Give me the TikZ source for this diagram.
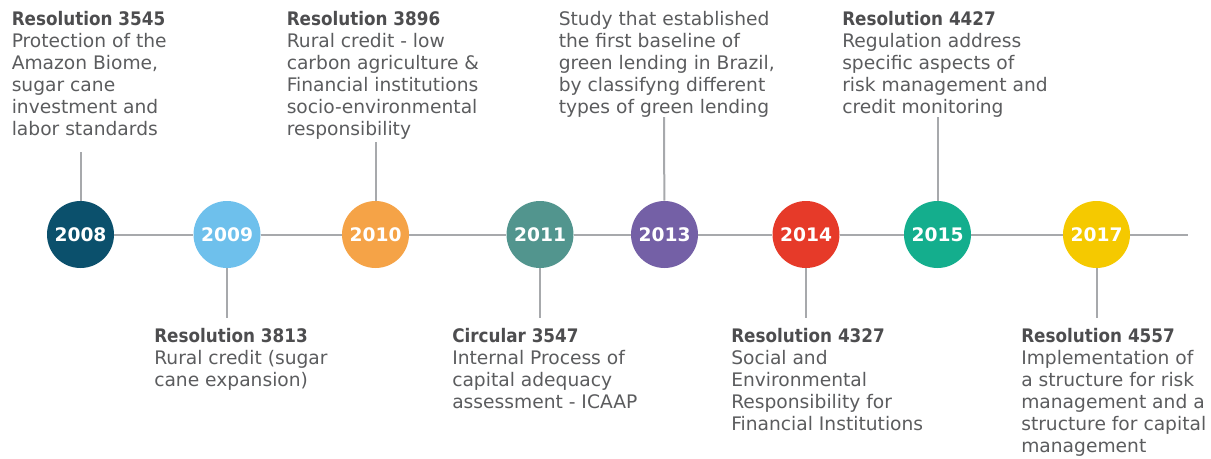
\documentclass[tikz,border=0pt]{standalone}
\usepackage{fontspec}
\setmainfont{DejaVu Sans}
\newfontfamily\hdrfont[FakeStretch=0.9]{DejaVu Sans Bold}
\newfontfamily\yrfont{DejaVu Sans Bold}
\definecolor{txtgray}{HTML}{5B5C5E}
\definecolor{hdrgray}{HTML}{4D4D4F}
\definecolor{linegray}{HTML}{A7A9AC}
\definecolor{c08}{HTML}{0B506C}
\definecolor{c09}{HTML}{6EC0EC}
\definecolor{c10}{HTML}{F5A347}
\definecolor{c11}{HTML}{52958E}
\definecolor{c13}{HTML}{7460A6}
\definecolor{c14}{HTML}{E63A29}
\definecolor{c15}{HTML}{14AE8D}
\definecolor{c17}{HTML}{F5C900}
\newcommand{\hd}[1]{\strut{\hdrfont\color{hdrgray}#1}}
\begin{document}
\begin{tikzpicture}[x=0.75pt,y=-0.75pt,
  yearnode/.style={circle, minimum size=50.25pt, inner sep=0pt, fill=#1, text=white,
    font=\yrfont\fontsize{14}{16}\selectfont},
  info/.style={anchor=north west, inner sep=0pt, align=left, text=txtgray,
    font=\fontsize{14}{16.5}\selectfont},
  conn/.style={draw=linegray, line width=1.5pt},
  tline/.style={draw=linegray, line width=1.5pt}]
\useasboundingbox (0,0) rectangle (1211,458);

% year circles
\node[yearnode=c08] (y08) at (80.5,234.5) {2008};
\node[yearnode=c09] (y09) at (227,234.5) {2009};
\node[yearnode=c10] (y10) at (375.5,234.5) {2010};
\node[yearnode=c11] (y11) at (540,234.5) {2011};
\node[yearnode=c13] (y13) at (664.5,234.5) {2013};
\node[yearnode=c14] (y14) at (806,234.5) {2014};
\node[yearnode=c15] (y15) at (937.5,234.5) {2015};
\node[yearnode=c17] (y17) at (1096.5,234.5) {2017};
\coordinate (tend) at (1188,234.5);

% timeline
\draw[tline] (y08) -- (y09);
\draw[tline] (y09) -- (y10);
\draw[tline] (y10) -- (y11);
\draw[tline] (y11) -- (y13);
\draw[tline] (y13) -- (y14);
\draw[tline] (y14) -- (y15);
\draw[tline] (y15) -- (y17);
\draw[tline] (y17) -- (tend);

% text blocks above
\node[info] (t08) at (11.5,9.6) {\hd{Resolution 3545}\\Protection of the\\Amazon Biome,\\sugar cane\\investment and\\labor standards};
\node[info] (t10) at (286.5,9.6) {\hd{Resolution 3896}\\Rural credit - low\\carbon agriculture \&\\Financial institutions\\socio-environmental\\responsibility};
\node[info] (t13) at (558.5,9.6) {\strut Study that established\\the first baseline of\\green lending in Brazil,\\by classifyng different\\types of green lending};
\node[info] (t15) at (842,9.6) {\hd{Resolution 4427}\\Regulation address\\specific aspects of\\risk management and\\credit monitoring};

% text blocks below
\node[info] (b09) at (154,326.6) {\hd{Resolution 3813}\\Rural credit (sugar\\cane expansion)};
\node[info] (b11) at (452,326.6) {\hd{Circular 3547}\\Internal Process of\\capital adequacy\\assessment - ICAAP};
\node[info] (b14) at (731,326.6) {\hd{Resolution 4327}\\Social and\\Environmental\\Responsibility for\\Financial Institutions};
\node[info] (b17) at (1021,326.6) {\hd{Resolution 4557}\\Implementation of\\a structure for risk\\management and a\\structure for capital\\management};

% connector ends
\coordinate (e08) at (80.5,152);
\coordinate (e10) at (375.5,142);
\coordinate (e13) at (664,117);
\coordinate (e15) at (937.5,117);
\coordinate (e09) at (227,318);
\coordinate (e11) at (540,318);
\coordinate (e14) at (806,318);
\coordinate (e17) at (1096.5,318);

\draw[conn] (e08) -- (y08);
\draw[conn] (e10) -- (y10);
\draw[conn] (e13) -- (y13);
\draw[conn] (e15) -- (y15);
\draw[conn] (y09) -- (e09);
\draw[conn] (y11) -- (e11);
\draw[conn] (y14) -- (e14);
\draw[conn] (y17) -- (e17);
\end{tikzpicture}
\end{document}
